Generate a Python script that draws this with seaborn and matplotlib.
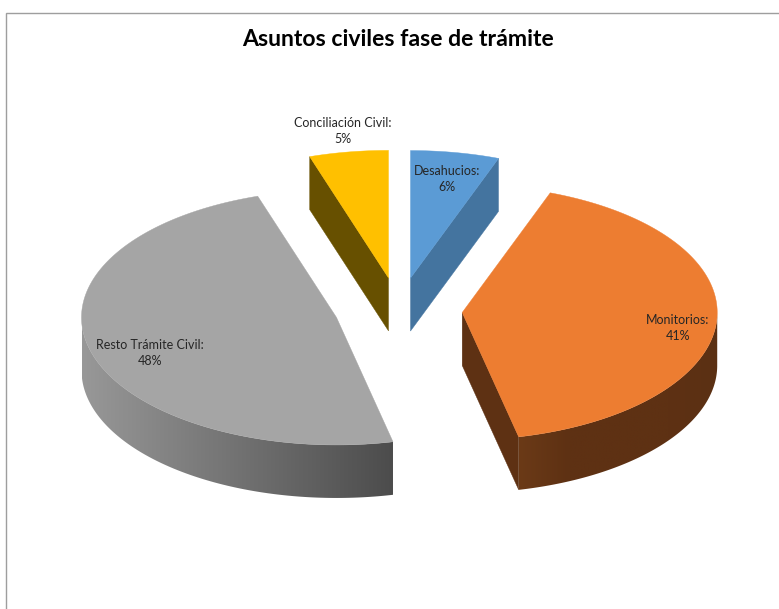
import numpy as np
import matplotlib
matplotlib.use("Agg")
import matplotlib.pyplot as plt
from matplotlib.patches import Polygon
import seaborn as sns

# Chart content
title = "Asuntos civiles fase de trámite"
categories = ["Desahucios", "Monitorios", "Resto Trámite Civil", "Conciliación Civil"]
shares = [6, 41, 48, 5]

# Colours per slice: top face, cut wall, rim shade at the left and right of the rim
top_colors = ["#5B9BD5", "#ED7D31", "#A5A5A5", "#FFC000"]
wall_colors = ["#44749F", "#5E3113", "#6E6E6E", "#675000"]
rim_shades = [("#44749F", "#44749F"),
              ("#6B3A17", "#5E3113", "#5E3113", "#5E3113", "#5B3013"),
              ("#989898", "#4C4C4C"),
              ("#675000", "#675000")]

# Projection of the exploded 3D pie, in pixels
CENTER = (398.5, 309.5)
RX, RY = 255.0, 127.5
EXPLODE = 64.0
DEPTH = 53.0

# Slight angular squeeze that the camera perspective puts on the right-hand side
VIEW_ANGLE_IN = [0, 20, 170, 340, 360]
VIEW_ANGLE_OUT = [0, 18.6, 168, 340, 360]

W, H = 779, 609

sns.set_theme(style="white")
plt.rcParams["font.family"] = ["Lato", "DejaVu Sans"]

fig = plt.figure(figsize=(W / 100, H / 100), dpi=100, facecolor="white")
ax = fig.add_axes([0, 0, 1, 1])


def project(theta_deg, radius=1.0):
    """Angle measured clockwise from 12 o'clock to an offset on the tilted disc."""
    t = np.radians(theta_deg)
    return RX * radius * np.sin(t), -RY * radius * np.cos(t)


def draw_slice(start, end, top, wall, shades):
    mid = (start + end) / 2
    ox, oy = project(mid, EXPLODE / RX)
    px, py = CENTER[0] + ox, CENTER[1] + oy

    theta = np.interp(np.linspace(start, end, 360), VIEW_ANGLE_IN, VIEW_ANGLE_OUT)
    dx, dy = project(theta)
    xs, ys = px + dx, py + dy

    # Straight cut walls: only those turned towards the viewer
    walls = []
    if start > 180:
        walls.append((xs[0], ys[0]))
    if end < 180:
        walls.append((xs[-1], ys[-1]))
    for x_e, y_e in walls:
        ax.add_patch(Polygon([(px, py), (x_e, y_e), (x_e, y_e + DEPTH), (px, py + DEPTH)],
                             closed=True, fc=wall, ec=wall, lw=0.3, zorder=2))

    # Front rim with a left-to-right shading ramp clipped to its outline
    visible = (theta >= 90) & (theta <= 270)
    if visible.sum() > 1:
        vx, vy = xs[visible], ys[visible]
        outline = Polygon(np.column_stack([np.r_[vx, vx[::-1]], np.r_[vy, vy[::-1] + DEPTH]]),
                          closed=True, fc="none", ec="none", transform=ax.transData)
        ax.add_patch(outline)
        ramp = sns.blend_palette(list(shades), 256, as_cmap=True)
        img = ax.imshow(np.linspace(0, 1, 256)[None, :], cmap=ramp, aspect="auto",
                        extent=(vx.min(), vx.max(), vy.max() + DEPTH, vy.min()),
                        interpolation="bilinear", zorder=3)
        img.set_clip_path(outline)

    # Top face
    ax.add_patch(Polygon(np.column_stack([np.r_[px, xs], np.r_[py, ys]]),
                         closed=True, fc=top, ec=top, lw=0.3, zorder=4))


edges = np.cumsum([0] + shares) / sum(shares) * 360
for i in range(len(shares)):
    draw_slice(edges[i], edges[i + 1], top_colors[i], wall_colors[i], rim_shades[i])

ax.set_xlim(0, W)
ax.set_ylim(H, 0)
ax.axis("off")

# Data labels sit on or just above their slices
label_xy = [(447, 179), (678, 328), (150, 353), (343, 131)]
for name, share, (x, y) in zip(categories, shares, label_xy):
    ax.text(x, y, f"{name}:\n{share}%", ha="center", va="center", fontsize=9.0,
            color="#262626", linespacing=1.42, zorder=6)

ax.text(398, 39.5, title, ha="center", va="center", fontsize=16.6, fontweight="bold", color="black")

# Chart area outline: only the top and left edges fall inside the canvas
ax.plot([6.5, 6.5, W], [H, 12.5, 12.5], color="#9E9E9E", lw=1.0, solid_joinstyle="miter", zorder=1)

fig.savefig("out.png", dpi=100, facecolor="white")
